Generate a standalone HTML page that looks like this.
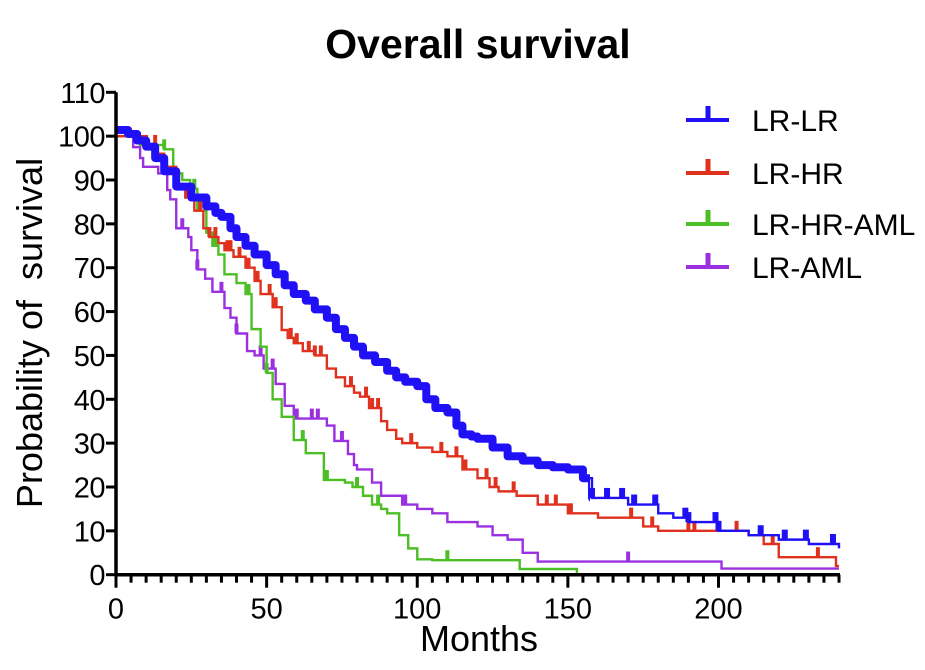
<!DOCTYPE html>
<html><head><meta charset="utf-8"><style>
html,body{margin:0;padding:0;background:#fff;}
svg{display:block;font-family:"Liberation Sans",Arial,sans-serif;}
</style></head><body>
<svg id="chart" width="925" height="670" viewBox="0 0 925 670" xmlns="http://www.w3.org/2000/svg">
<defs><clipPath id="thickClip"><rect x="100" y="80" width="490" height="500"/></clipPath></defs>
<text x="478" y="58" text-anchor="middle" font-size="41" font-weight="bold">Overall survival</text>
<text transform="translate(42,333) rotate(-90)" text-anchor="middle" font-size="36" xml:space="preserve">Probability of  survival</text>
<text x="479" y="651" text-anchor="middle" font-size="36">Months</text>
<g id="plot"></g>
<g id="axes"></g>
<g id="legend"></g>
</svg>
<script>
const seriesNames = ["LR-LR","LR-HR","LR-HR-AML","LR-AML"];
const seriesColors = ["#1f10f5","#e0301e","#4cbf25","#9a30e0"];
const xTicks = [0,50,100,150,200];
const yTicks = [0,10,20,30,40,50,60,70,80,90,100,110];
const lrlrT = [0,4,7,10,13,16,20,25,30,33,35,38,40,43,46,50,53,56,59,63,66,70,73,76,79,82,86,90,93,96,100,103,106,110,113,115,118,120,125,130,135,140,145,150,155,158,170,180,185,190,200,210,220,230,240];
const lrlrS = [101.4,100.5,99,97.6,95,92,88.5,86,84,82.5,81.6,79,77,75,73,70.6,68.5,66,64,62.5,60.5,58.6,56,54,52,50,48.5,46.5,45,44,43,40,38,37,34,32,31.5,31,29,27,26,25,24.5,24,22,17.5,16,14,13,12,10,9,8,7,6];
const lrhrT = [0,9,13.5,16,20,23,26,29,31,34,36,39,43,46,48,52,55,57,59,62,66,70,73,76,79,81,84,88,90,93,95,100,105,110,115,120,124,127,133,140,150,160,175,180,200,210,215,220,239,240];
const lrhrS = [100,98,96,93,88,86,83,79,77,75.6,74,72.5,70,67,64,61,55.8,54,52.8,51,50,47,45,43,41.5,40.6,38,35,33,31,30,29,28,27,24,22,20,19,18,16,14,13,11,10,10,9,7,4,2,2];
const lrhraT = [0,8,16,19,22,24.6,27,30,32,34,36,40,43,45,48,50,52,55,59,63,69,76,78.5,82,85,88,90,94,97,100,105,134,153];
const lrhraS = [100,98,97,91.5,90,88,83,78,75,73,68.5,66.5,64,56,52,46,40,36,30.7,27.7,21.6,21,20,18,16,15,14,9,6,3.5,3.3,1.3,0];
const lramlT = [0,5.7,8,9,14,17,18,20,24,25,27,29.6,32,36,38,40,43.5,46,49,53,56,59,70,72.5,77,79,80,85,88,95,100,105,110,120,125,130,135,140,201,240];
const lramlS = [100,97.5,95,93,91.5,87.7,85.6,79,77,74,69.6,67.5,64.5,60.8,58.6,55,51,50,47,43.5,38.5,35.6,34,30.5,27.5,25,24,21,18,16,15,14,12,11,9,8,5,3,1.4,1.4];
const lrlrCens = [158,163,168,172,179,189,190,199,200,214,222,229,238];
const lrhrCens = [10,13,24,28,31,33,37,38,41,44,47,51,53,58,60,64,66,68,78,83,85,87,98,108,113,116,123,126,132,143,146,151,171,178,190,192,206,218,233];
const lrhraCens = [16,26,33,44,50,62,70,80,87,110];
const lramlCens = [16,22,27,35,40,48,52,60,65,67,75,96,170];

const X0=116, X1=839, Y0=574.7, Y1=92.3, XMAX=240, YMAX=110;
const xs = t => X0 + (X1-X0)*t/XMAX;
const ys = v => Y0 - (Y0-Y1)*v/YMAX;
const NS="http://www.w3.org/2000/svg";
function mk(tag, parent){const e=document.createElementNS(NS,tag);parent.appendChild(e);return e;}
const plot=document.getElementById('plot'), axes=document.getElementById('axes'), legend=document.getElementById('legend');
const allT=[lrlrT,lrhrT,lrhraT,lramlT], allS=[lrlrS,lrhrS,lrhraS,lramlS], allC=[lrlrCens,lrhrCens,lrhraCens,lramlCens];
function survAt(T,S,t){let v=S[0];for(let i=0;i<T.length;i++){if(T[i]<=t)v=S[i];}return v;}
function stepPath(T,S){let d="M"+xs(T[0])+","+ys(S[0]);for(let i=1;i<T.length;i++){d+=" H"+xs(T[i])+" V"+ys(S[i]);}return d;}
const order=[3,2,1,0];
order.forEach(k=>{
  const T=allT[k],S=allS[k];
  const d=stepPath(T,S);
  const p=mk('path',plot);
  
  
  p.setAttribute('d',d);p.setAttribute('fill','none');p.setAttribute('stroke',seriesColors[k]);
  p.setAttribute('stroke-width',2.4);
  if(k===0){
    const th=mk('path',plot);
    
    
    th.setAttribute('d',d);th.setAttribute('fill','none');th.setAttribute('stroke',seriesColors[0]);
    th.setAttribute('stroke-width',8);th.setAttribute('stroke-linejoin','round');
    th.setAttribute('clip-path','url(#thickClip)');
  }
  const g=mk('g',plot);
  
  
  allC[k].forEach(t=>{
    const y=ys(survAt(T,S,t));
    const l=mk('line',g);
    
    
    l.setAttribute('x1',xs(t));l.setAttribute('x2',xs(t));l.setAttribute('y1',y);l.setAttribute('y2',y-10);
    l.setAttribute('stroke',seriesColors[k]);l.setAttribute('stroke-width',k===0?6:4);
  });
});
const ya=mk('line',axes);

ya.setAttribute('x1',X0);ya.setAttribute('x2',X0);ya.setAttribute('y1',Y1);ya.setAttribute('y2',Y0+1.5);ya.setAttribute('stroke','#000');ya.setAttribute('stroke-width',3.5);
const xa=mk('line',axes);

xa.setAttribute('x1',X0-1.5);xa.setAttribute('x2',X1+1);xa.setAttribute('y1',Y0);xa.setAttribute('y2',Y0);xa.setAttribute('stroke','#000');xa.setAttribute('stroke-width',3.5);
yTicks.forEach(v=>{
  const l=mk('line',axes);
  
  l.setAttribute('x1',X0-10);l.setAttribute('x2',X0);l.setAttribute('y1',ys(v));l.setAttribute('y2',ys(v));l.setAttribute('stroke','#000');l.setAttribute('stroke-width',3);
  const t=mk('text',axes);
  
  t.setAttribute('x',X0-11);t.setAttribute('y',ys(v)+10.5);t.setAttribute('text-anchor','end');t.setAttribute('font-size','29');
  t.setAttribute('letter-spacing','-0.5');
  t.textContent=v;
});
for(let m=0;m<=XMAX;m+=5){
  const major=xTicks.indexOf(m)>=0;
  const l=mk('line',axes);
  
  l.setAttribute('x1',xs(m));l.setAttribute('x2',xs(m));l.setAttribute('y1',Y0);l.setAttribute('y2',Y0+(major?13:8));l.setAttribute('stroke','#000');l.setAttribute('stroke-width',3);
}
xTicks.forEach(v=>{
  const t=mk('text',axes);
  
  t.setAttribute('x',xs(v));t.setAttribute('y',Y0+44);t.setAttribute('text-anchor','middle');t.setAttribute('font-size','29');
  t.textContent=v;
});
const legY=[120,173,224,267];
seriesNames.forEach((n,k)=>{
  const g=mk('g',legend);
  
  const l=mk('line',g);
  l.setAttribute('x1',686);l.setAttribute('x2',729);l.setAttribute('y1',legY[k]);l.setAttribute('y2',legY[k]);l.setAttribute('stroke',seriesColors[k]);l.setAttribute('stroke-width',4);
  const v=mk('line',g);
  v.setAttribute('x1',708);v.setAttribute('x2',708);v.setAttribute('y1',legY[k]);v.setAttribute('y2',legY[k]-14);v.setAttribute('stroke',seriesColors[k]);v.setAttribute('stroke-width',5);
  const t=mk('text',g);
  t.setAttribute('x',752);t.setAttribute('y',legY[k]+11);t.setAttribute('font-size','30');
  t.textContent=n;
});
</script>
</body></html>
